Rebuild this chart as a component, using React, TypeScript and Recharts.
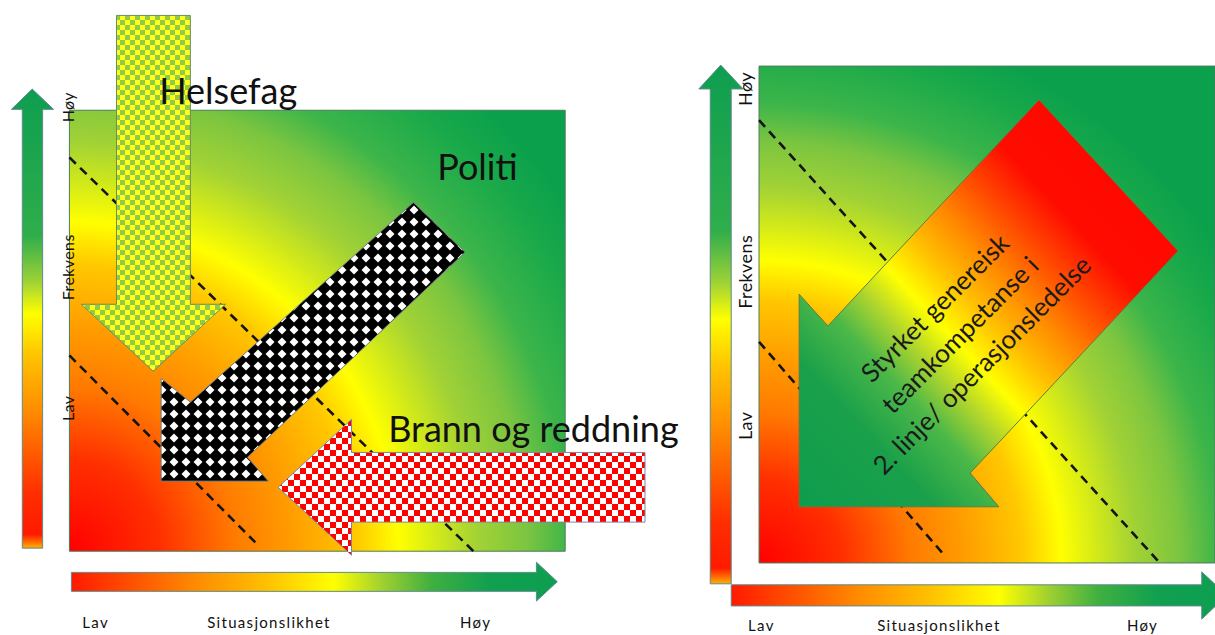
import React from "react";
import { ComposedChart, Scatter, XAxis, YAxis } from "recharts";

type Pt = { x: number; y: number };
type Label = Pt & { text: string };

// ---------- left panel (the square runs 0..100 on both axes) ----------
const leftSquare: Pt[] = [
  { x: 0, y: 0 }, { x: 100, y: 0 }, { x: 100, y: 100 }, { x: 0, y: 100 },
];
const leftDashUpper: Pt[] = [{ x: 0, y: 89.3 }, { x: 81.5, y: 0 }];
const leftDashLower: Pt[] = [{ x: 0, y: 44.4 }, { x: 37.5, y: 2.0 }];
const helsefagArrow: Pt[] = [
  { x: 9.5, y: 121.5 }, { x: 24.4, y: 121.5 }, { x: 24.4, y: 56 }, { x: 31.5, y: 56 },
  { x: 16.9, y: 40.8 }, { x: 2.4, y: 56 }, { x: 9.5, y: 56 },
];
const politiArrow: Pt[] = [
  { x: 69.4, y: 79.1 }, { x: 79.8, y: 67.8 }, { x: 35.9, y: 21.3 }, { x: 40.1, y: 15.9 },
  { x: 18.5, y: 15.9 }, { x: 18.5, y: 39.2 }, { x: 24.4, y: 33.8 },
];
const brannArrow: Pt[] = [
  { x: 116.1, y: 22.4 }, { x: 56.9, y: 22.4 }, { x: 56.9, y: 29.9 }, { x: 42.1, y: 14.5 },
  { x: 56.9, y: -0.9 }, { x: 56.9, y: 6.6 }, { x: 116.1, y: 6.6 },
];
const leftFreqArrow: Pt[] = [
  { x: -9.5, y: 0.7 }, { x: -5.4, y: 0.7 }, { x: -5.4, y: 100.2 }, { x: -3.2, y: 100.2 },
  { x: -7.5, y: 104.8 }, { x: -11.7, y: 100.2 }, { x: -9.5, y: 100.2 },
];
const leftSitArrow: Pt[] = [
  { x: 0.4, y: -4.8 }, { x: 94.2, y: -4.8 }, { x: 94.2, y: -2.5 }, { x: 98.4, y: -6.9 },
  { x: 94.2, y: -11.3 }, { x: 94.2, y: -9.1 }, { x: 0.4, y: -9.1 },
];
const leftTitles: Label[] = [
  { x: 18.1, y: 101.4, text: "Helsefag" },
  { x: 74.2, y: 84.1, text: "Politi" },
  { x: 64.3, y: 24.7, text: "Brann og reddning" },
];
const leftFreqLabels: Label[] = [
  { x: 1.0, y: 100.7, text: "Høy" },
  { x: 1.0, y: 64.4, text: "Frekvens" },
  { x: 1.0, y: 32.4, text: "Lav" },
];
const leftSitLabels: Label[] = [
  { x: 2.6, y: -17.5, text: "Lav" },
  { x: 27.8, y: -17.5, text: "Situasjonslikhet" },
  { x: 78.8, y: -17.5, text: "Høy" },
];

// ---------- right panel ----------
const rightSquare: Pt[] = [
  { x: 0, y: 0 }, { x: 100, y: 0 }, { x: 100, y: 100 }, { x: 0, y: 100 },
];
const rightDashUpper: Pt[] = [{ x: 0, y: 89.1 }, { x: 87.9, y: 0 }];
const rightDashLower: Pt[] = [{ x: 0, y: 44.5 }, { x: 40.4, y: 1.8 }];
const teamArrow: Pt[] = [
  { x: 61.4, y: 93.2 }, { x: 91.9, y: 62.8 }, { x: 46.3, y: 18.1 }, { x: 52.6, y: 11.3 },
  { x: 8.8, y: 11.3 }, { x: 8.8, y: 54.1 }, { x: 15.1, y: 47.7 },
];
const rightFreqArrow: Pt[] = [
  { x: -10.7, y: -4.2 }, { x: -6.1, y: -4.2 }, { x: -6.1, y: 95.4 }, { x: -3.5, y: 95.4 },
  { x: -8.4, y: 100.2 }, { x: -13.2, y: 95.4 }, { x: -10.7, y: 95.4 },
];
const rightSitArrow: Pt[] = [
  { x: -6.1, y: -4.4 }, { x: 97.1, y: -4.4 }, { x: 97.1, y: -1.8 }, { x: 102.6, y: -6.5 },
  { x: 97.1, y: -11.3 }, { x: 97.1, y: -8.65 }, { x: -6.1, y: -8.65 },
];
const teamText: Label[] = [
  { x: 38.6, y: 51.3, text: "Styrket genereisk" },
  { x: 44.1, y: 45.9, text: "teamkompetanse i" },
  { x: 48.9, y: 39.8, text: "2. linje/ operasjonsledelse" },
];
const rightFreqLabels: Label[] = [
  { x: -1.5, y: 95.4, text: "Høy" },
  { x: -1.5, y: 58.6, text: "Frekvens" },
  { x: -1.5, y: 27.6, text: "Lav" },
];
const rightSitLabels: Label[] = [
  { x: -2.4, y: -13.6, text: "Lav" },
  { x: 25.9, y: -13.6, text: "Situasjonslikhet" },
  { x: 80.7, y: -13.6, text: "Høy" },
];

const FONT = "Lato, 'Open Sans', sans-serif";

// polygon / polyline drawn through the scatter's own pixel points
function Poly(props: any) {
  const { points, paint, edge, lw = 1, open, dash } = props;
  if (!points || !points.length) return null;
  const d =
    points.map((p: any, i: number) => `${i ? "L" : "M"}${p.x},${p.y}`).join("") + (open ? "" : "Z");
  return (
    <path
      d={d}
      fill={open ? "none" : paint}
      stroke={edge}
      strokeWidth={lw}
      strokeDasharray={dash}
      strokeLinejoin="miter"
    />
  );
}

const noDot = () => <g />;

const titleDot = (p: any) => (
  <text x={p.cx} y={p.cy} fontFamily={FONT} fontSize={36} fill="#111">
    {p.payload?.text}
  </text>
);

const sideDot = (size: number) => (p: any) => (
  <text
    x={p.cx}
    y={p.cy}
    transform={`rotate(-90 ${p.cx} ${p.cy})`}
    textAnchor="middle"
    fontFamily={FONT}
    fontSize={size}
    letterSpacing={0.4}
    fill="#111"
  >
    {p.payload?.text}
  </text>
);

const bottomDot = (p: any) => (
  <text x={p.cx} y={p.cy} fontFamily={FONT} fontSize={15} letterSpacing={1.3} fill="#111">
    {p.payload?.text}
  </text>
);

const teamDot = (p: any) => (
  <text
    x={p.cx}
    y={p.cy}
    dy="0.35em"
    transform={`rotate(-45 ${p.cx} ${p.cy})`}
    textAnchor="middle"
    fontFamily={FONT}
    fontSize={26}
    fill="#1a1a1a"
  >
    {p.payload?.text}
  </text>
);

// r: gradient radius in box widths, sy: box width / box height (keeps the rings round)
function Defs({ id, r, sy }: { id: string; r: number; sy: number }) {
  return (
    <defs>
      <radialGradient
        id={`${id}Bg`}
        cx="0"
        cy="1"
        fx="0"
        fy="1"
        r={r}
        gradientTransform={`translate(0 1) scale(1 ${sy}) translate(0 -1)`}
      >
        <stop offset="0%" stopColor="#ff0000" />
        <stop offset="15%" stopColor="#ff3000" />
        <stop offset="27%" stopColor="#ff7a00" />
        <stop offset="36%" stopColor="#ff9a00" />
        <stop offset="47%" stopColor="#ffc800" />
        <stop offset="54%" stopColor="#ffff00" />
        <stop offset="67%" stopColor="#a2d235" />
        <stop offset="75%" stopColor="#7cc540" />
        <stop offset="82%" stopColor="#3cb54a" />
        <stop offset="92%" stopColor="#1aa94a" />
        <stop offset="100%" stopColor="#0aa04c" />
      </radialGradient>
      <linearGradient id={`${id}Vert`} x1="0" y1="1" x2="0" y2="0">
        <stop offset="0%" stopColor="#ffb000" />
        <stop offset="3%" stopColor="#ff1a00" />
        <stop offset="12%" stopColor="#ff2e00" />
        <stop offset="30%" stopColor="#ff8c00" />
        <stop offset="42%" stopColor="#ffc400" />
        <stop offset="51%" stopColor="#ffff00" />
        <stop offset="58%" stopColor="#9fd236" />
        <stop offset="68%" stopColor="#2fae4b" />
        <stop offset="100%" stopColor="#0e9e50" />
      </linearGradient>
      <linearGradient id={`${id}Hor`} x1="0" y1="0" x2="1" y2="0">
        <stop offset="0%" stopColor="#ff1a00" />
        <stop offset="25%" stopColor="#ff8800" />
        <stop offset="40%" stopColor="#ffc000" />
        <stop offset="54%" stopColor="#ffff00" />
        <stop offset="64%" stopColor="#a0d030" />
        <stop offset="74%" stopColor="#40b040" />
        <stop offset="86%" stopColor="#10a050" />
        <stop offset="100%" stopColor="#0e9e50" />
      </linearGradient>
      <linearGradient id={`${id}Team`} x1="1" y1="0" x2="0" y2="1">
        <stop offset="0%" stopColor="#ff0000" />
        <stop offset="29%" stopColor="#ff0c00" />
        <stop offset="37%" stopColor="#ff4a00" />
        <stop offset="45%" stopColor="#ff8c00" />
        <stop offset="52%" stopColor="#ffc000" />
        <stop offset="59%" stopColor="#ffff00" />
        <stop offset="65%" stopColor="#b2d62c" />
        <stop offset="72%" stopColor="#4cb848" />
        <stop offset="82%" stopColor="#1aa04a" />
        <stop offset="100%" stopColor="#0e9d4e" />
      </linearGradient>
      <pattern id={`${id}Helse`} width="10" height="10" patternUnits="userSpaceOnUse">
        <rect width="10" height="10" fill="#ffff1a" />
        <rect width="5" height="5" fill="#8fcb45" />
        <rect x="5" y="5" width="5" height="5" fill="#8fcb45" />
      </pattern>
      <pattern id={`${id}Politi`} width="12" height="12" patternUnits="userSpaceOnUse">
        <rect width="12" height="12" fill="#000" />
        <polygon points="6,1.5 10.5,6 6,10.5 1.5,6" fill="#fff" />
      </pattern>
      <pattern id={`${id}Brann`} width="12" height="12" patternUnits="userSpaceOnUse">
        <rect width="12" height="12" fill="#fff" />
        <rect width="6" height="6" fill="#ff0000" />
        <rect x="6" y="6" width="6" height="6" fill="#ff0000" />
      </pattern>
    </defs>
  );
}

const dashLine = <Poly open edge="#141414" lw={2.6} dash="9 6" />;

export default function App() {
  return (
    <div
      style={{
        position: "absolute",
        left: 0,
        top: 0,
        width: 1215,
        height: 635,
        overflow: "hidden",
        background: "#fff",
      }}
    >
      <div style={{ position: "absolute", left: 0, top: 0 }}>
        <ComposedChart width={704} height={635} margin={{ top: 0, right: 0, bottom: 0, left: 0 }}>
          <Defs id="l" r={1.23} sy={1.125} />
          <XAxis type="number" dataKey="x" domain={[-14, 128]} allowDataOverflow hide />
          <YAxis type="number" dataKey="y" domain={[-19, 125]} allowDataOverflow hide />
          <Scatter data={leftSquare} line={<Poly paint="url(#lBg)" edge="#4d7a5c" />} shape={noDot} isAnimationActive={false} />
          <Scatter data={leftDashUpper} line={dashLine} shape={noDot} isAnimationActive={false} />
          <Scatter data={leftDashLower} line={dashLine} shape={noDot} isAnimationActive={false} />
          <Scatter data={leftFreqArrow} line={<Poly paint="url(#lVert)" edge="#5f8a8b" />} shape={noDot} isAnimationActive={false} />
          <Scatter data={leftSitArrow} line={<Poly paint="url(#lHor)" edge="#5f8a8b" />} shape={noDot} isAnimationActive={false} />
          <Scatter data={helsefagArrow} line={<Poly paint="url(#lHelse)" edge="#6e8e5e" />} shape={noDot} isAnimationActive={false} />
          <Scatter data={politiArrow} line={<Poly paint="url(#lPoliti)" edge="#6f7b84" />} shape={noDot} isAnimationActive={false} />
          <Scatter data={brannArrow} line={<Poly paint="url(#lBrann)" edge="#7a86a6" />} shape={noDot} isAnimationActive={false} />
          <Scatter data={leftTitles} shape={titleDot} isAnimationActive={false} />
          <Scatter data={leftFreqLabels} shape={sideDot(16)} isAnimationActive={false} />
          <Scatter data={leftSitLabels} shape={bottomDot} isAnimationActive={false} />
        </ComposedChart>
      </div>
      <div style={{ position: "absolute", left: 604, top: 0 }}>
        <ComposedChart width={611} height={635} margin={{ top: 0, right: 0, bottom: 0, left: 0 }}>
          <Defs id="r" r={1.23} sy={0.917} />
          <XAxis type="number" dataKey="x" domain={[-34, 100]} allowDataOverflow hide />
          <YAxis type="number" dataKey="y" domain={[-14.5, 113.3]} allowDataOverflow hide />
          <Scatter data={rightSquare} line={<Poly paint="url(#rBg)" edge="#4d7a5c" />} shape={noDot} isAnimationActive={false} />
          <Scatter data={rightDashUpper} line={dashLine} shape={noDot} isAnimationActive={false} />
          <Scatter data={rightDashLower} line={dashLine} shape={noDot} isAnimationActive={false} />
          <Scatter data={rightFreqArrow} line={<Poly paint="url(#rVert)" edge="#5f8a8b" />} shape={noDot} isAnimationActive={false} />
          <Scatter data={rightSitArrow} line={<Poly paint="url(#rHor)" edge="#5f8a8b" />} shape={noDot} isAnimationActive={false} />
          <Scatter data={teamArrow} line={<Poly paint="url(#rTeam)" edge="#5d7d45" />} shape={noDot} isAnimationActive={false} />
          <Scatter data={teamText} shape={teamDot} isAnimationActive={false} />
          <Scatter data={rightFreqLabels} shape={sideDot(18)} isAnimationActive={false} />
          <Scatter data={rightSitLabels} shape={bottomDot} isAnimationActive={false} />
        </ComposedChart>
      </div>
    </div>
  );
}
